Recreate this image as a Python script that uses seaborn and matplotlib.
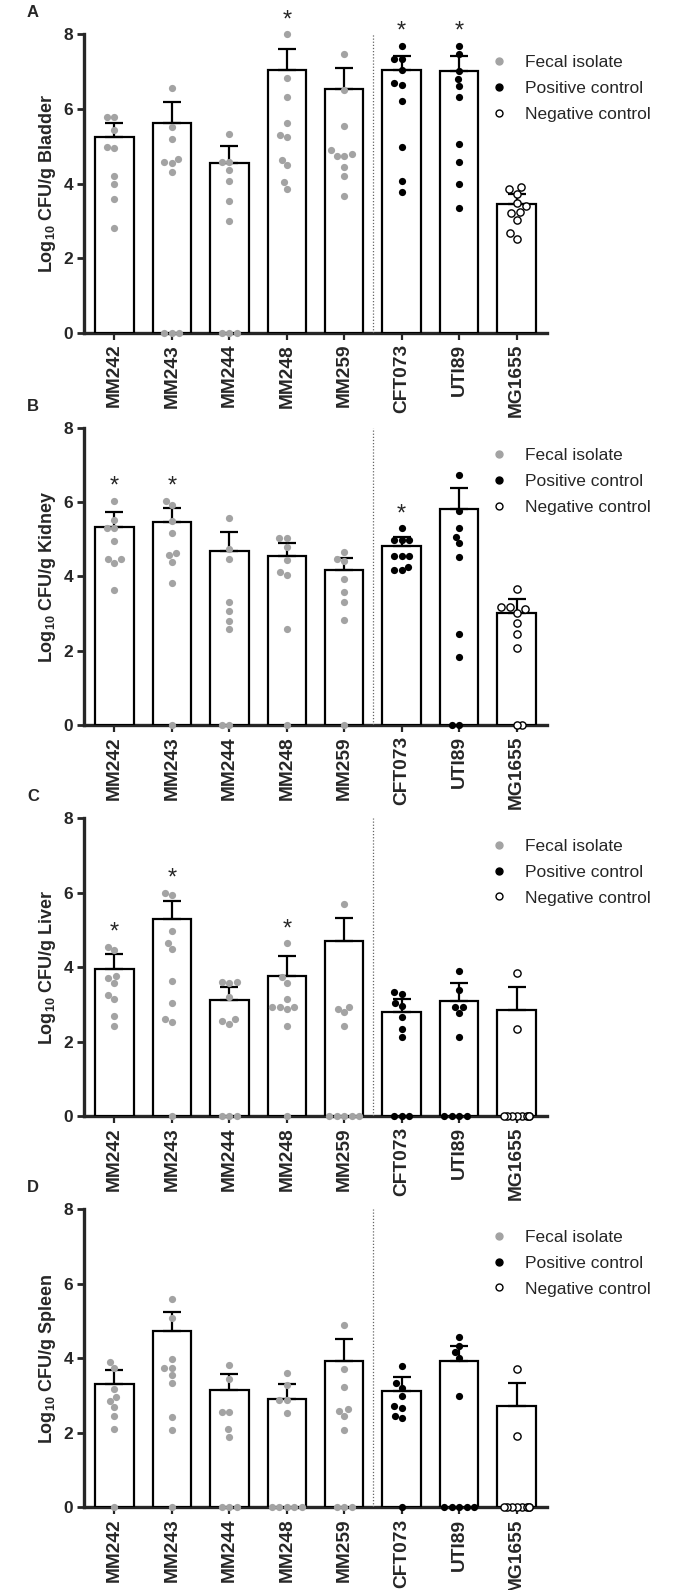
import warnings
warnings.filterwarnings("ignore")
import numpy as np
import pandas as pd
import matplotlib
matplotlib.use("Agg")
import matplotlib.pyplot as plt
from matplotlib.lines import Line2D
import seaborn as sns

# ---------------- data ----------------
strains = ["MM242", "MM243", "MM244", "MM248", "MM259", "CFT073", "UTI89", "MG1655"]
strain_types = ["Fecal isolate"] * 5 + ["Positive control"] * 2 + ["Negative control"]
organs = ["Bladder", "Kidney", "Liver", "Spleen"]
panel_letters = ["A", "B", "C", "D"]

bladder_mean = [5.26, 5.62, 4.54, 7.04, 6.53, 7.04, 7.01, 3.46]
bladder_sem = [0.36, 0.57, 0.47, 0.57, 0.57, 0.39, 0.41, 0.27]
bladder_points = {
    "MM242": [5.77, 5.77, 5.43, 4.99, 4.94, 4.20, 3.98, 3.58, 2.82],
    "MM243": [6.55, 5.52, 5.19, 4.67, 4.57, 4.54, 4.32, 0, 0, 0],
    "MM244": [5.34, 4.57, 4.57, 4.36, 4.08, 3.53, 2.99, 0, 0, 0],
    "MM248": [8.00, 6.82, 6.32, 5.61, 5.31, 5.24, 4.64, 4.50, 4.03, 3.85],
    "MM259": [7.46, 6.50, 5.55, 4.89, 4.79, 4.75, 4.75, 4.45, 4.20, 3.66],
    "CFT073": [7.69, 7.33, 7.33, 7.03, 6.70, 6.64, 6.22, 4.99, 4.07, 3.76],
    "UTI89": [7.69, 7.47, 7.01, 6.80, 6.61, 6.33, 5.05, 4.57, 3.98, 3.35],
    "MG1655": [3.91, 3.84, 3.71, 3.47, 3.40, 3.24, 3.20, 3.02, 2.66, 2.51],
}
bladder_stars = ["MM248", "CFT073", "UTI89"]

kidney_mean = [5.34, 5.46, 4.69, 4.56, 4.17, 4.83, 5.82, 3.02]
kidney_sem = [0.40, 0.37, 0.51, 0.33, 0.32, 0.24, 0.56, 0.37]
kidney_points = {
    "MM242": [6.04, 5.52, 5.29, 5.29, 4.96, 4.46, 4.46, 4.35, 3.63],
    "MM243": [6.04, 5.92, 5.50, 5.17, 4.62, 4.57, 4.39, 3.83, 0],
    "MM244": [5.56, 4.73, 4.48, 3.31, 3.08, 2.80, 2.59, 0, 0],
    "MM248": [5.04, 5.04, 4.80, 4.44, 4.11, 4.04, 2.59, 0],
    "MM259": [4.66, 4.46, 4.41, 3.92, 3.59, 3.31, 2.83, 0],
    "CFT073": [5.29, 4.98, 4.98, 4.98, 4.56, 4.56, 4.56, 4.26, 4.17, 4.17],
    "UTI89": [6.74, 5.77, 5.29, 5.07, 4.89, 4.53, 2.44, 1.84, 0, 0],
    "MG1655": [3.66, 3.17, 3.17, 3.12, 3.02, 2.74, 2.44, 2.08, 0, 0],
}
kidney_stars = ["MM242", "MM243", "CFT073"]

liver_mean = [3.95, 5.30, 3.12, 3.76, 4.70, 2.80, 3.10, 2.85]
liver_sem = [0.40, 0.48, 0.35, 0.54, 0.62, 0.34, 0.48, 0.62]
liver_points = {
    "MM242": [4.55, 4.46, 3.77, 3.70, 3.58, 3.26, 3.14, 2.69, 2.43],
    "MM243": [6.00, 5.94, 4.96, 4.64, 4.48, 3.63, 3.05, 2.60, 2.52, 0],
    "MM244": [3.60, 3.60, 3.57, 3.19, 2.60, 2.54, 2.46, 0, 0, 0],
    "MM248": [4.64, 3.73, 3.58, 3.14, 2.94, 2.94, 2.94, 2.88, 2.43, 0],
    "MM259": [5.69, 2.94, 2.88, 2.79, 2.43, 0, 0, 0, 0, 0],
    "CFT073": [3.32, 3.28, 3.03, 2.95, 2.67, 2.35, 2.13, 0, 0, 0],
    "UTI89": [3.90, 3.39, 2.92, 2.92, 2.76, 2.13, 0, 0, 0, 0],
    "MG1655": [3.83, 2.33, 0, 0, 0, 0, 0, 0, 0, 0],
}
liver_stars = ["MM242", "MM243", "MM248"]

spleen_mean = [3.30, 4.72, 3.16, 2.90, 3.93, 3.12, 3.93, 2.71]
spleen_sem = [0.38, 0.53, 0.42, 0.42, 0.59, 0.39, 0.40, 0.63]
spleen_points = {
    "MM242": [3.90, 3.75, 3.17, 2.95, 2.85, 2.70, 2.46, 2.11, 0],
    "MM243": [5.59, 5.09, 3.97, 3.75, 3.75, 3.55, 3.35, 2.43, 2.08, 0],
    "MM244": [3.82, 3.45, 2.57, 2.57, 2.09, 1.90, 0, 0, 0],
    "MM248": [3.60, 3.28, 2.88, 2.88, 2.52, 0, 0, 0, 0, 0],
    "MM259": [4.89, 3.70, 3.24, 2.63, 2.59, 2.46, 2.08, 0, 0, 0],
    "CFT073": [3.80, 3.35, 3.21, 3.00, 2.72, 2.66, 2.46, 2.39, 0],
    "UTI89": [4.58, 4.34, 4.18, 4.02, 3.00, 0, 0, 0, 0, 0],
    "MG1655": [3.70, 1.92, 0, 0, 0, 0, 0, 0, 0, 0],
}
spleen_stars = []

y_ticks = [0, 2, 4, 6, 8]

# ---------------- style ----------------
sns.set_style("ticks")
plt.rcParams["font.family"] = ["Liberation Sans", "DejaVu Sans"]
plt.rcParams["mathtext.fontset"] = "custom"
plt.rcParams["mathtext.rm"] = "Liberation Sans"
plt.rcParams["mathtext.bf"] = "Liberation Sans:bold"
plt.rcParams["mathtext.default"] = "regular"

GRAY = "#a3a3a3"
type_style = {
    "Fecal isolate": dict(color=GRAY, edgecolor=GRAY, linewidth=0),
    "Positive control": dict(color="black", edgecolor="black", linewidth=0),
    "Negative control": dict(color="white", edgecolor="black", linewidth=1.0),
}
# horizontal compression of the zero-value swarm for each group type
swarm_squeeze = {"Fecal isolate": 1.0, "Positive control": 1.0, "Negative control": 0.55}

panels = [
    (bladder_mean, bladder_sem, bladder_points, bladder_stars),
    (kidney_mean, kidney_sem, kidney_points, kidney_stars),
    (liver_mean, liver_sem, liver_points, liver_stars),
    (spleen_mean, spleen_sem, spleen_points, spleen_stars),
]

W, H = 683, 1590
fig = plt.figure(figsize=(W / 100, H / 100), dpi=100)

ax_left = 84 / W
ax_width = (547 - 84) / W
tops = [34.3, 427.7, 818.3, 1209.3]
bottoms = [332.7, 725.0, 1116.0, 1507.3]

swarm_colls = []  # (collection, squeeze factor)

for k, (means, sems, pts, stars) in enumerate(panels):
    b = 1 - bottoms[k] / H
    h = (bottoms[k] - tops[k]) / H
    ax = fig.add_axes([ax_left, b, ax_width, h])

    bar_df = pd.DataFrame({"strain": strains, "mean": means})
    sns.barplot(data=bar_df, x="strain", y="mean", order=strains, color="white",
                saturation=1, edgecolor="black", linewidth=1.6, width=0.67,
                errorbar=None, ax=ax, zorder=2)
    ax.errorbar(np.arange(len(strains)), means, yerr=[np.zeros(len(means)), sems],
                fmt="none", ecolor="black", elinewidth=1.6, capsize=6.5,
                capthick=1.6, zorder=3)

    rows = []
    for s, t in zip(strains, strain_types):
        for v in pts[s]:
            rows.append((s, t, v))
    df = pd.DataFrame(rows, columns=["strain", "type", "value"])
    for t, st in type_style.items():
        sub = df[df["type"] == t]
        n_before = len(ax.collections)
        sns.swarmplot(data=sub, x="strain", y="value", order=strains, size=5.2,
                      ax=ax, zorder=5, **st)
        for coll in ax.collections[n_before:]:
            swarm_colls.append((coll, swarm_squeeze[t]))
    for coll in ax.collections:
        coll.set_clip_on(False)

    n_fecal = strain_types.count("Fecal isolate")
    ax.plot([n_fecal - 0.5, n_fecal - 0.5], [0, 8], ls=(0, (1, 1.5)),
            color="#666666", lw=0.9, zorder=1)

    for s in stars:
        i = strains.index(s)
        ax.text(i, max(pts[s]) + 0.38, "*", ha="center", va="center",
                fontsize=17, clip_on=False)

    ax.set_xlim(-0.53, 7.53)
    ax.set_ylim(0, 8)
    ax.set_yticks(y_ticks)
    ax.set_yticklabels([str(v) for v in y_ticks], fontweight="bold", fontsize=12.5)
    ax.set_xticks(range(len(strains)))
    ax.set_xticklabels(strains, rotation=90, fontweight="bold", fontsize=13.8)
    ax.set_xlabel("")
    ax.set_ylabel(f"Log$_{{10}}$ CFU/g {organs[k]}", fontweight="bold",
                  fontsize=13, labelpad=4)
    for side in ["top", "right"]:
        ax.spines[side].set_visible(False)
    ax.spines["left"].set_linewidth(2.4)
    ax.spines["bottom"].set_linewidth(2.4)
    ax.spines["left"].set_zorder(0.5)
    ax.spines["bottom"].set_zorder(0.5)
    ax.tick_params(axis="y", width=2, length=5, pad=3)
    ax.tick_params(axis="x", width=1.6, length=5, pad=3)

    handles = [
        Line2D([], [], ls="", marker="o", markersize=5, markerfacecolor=GRAY,
               markeredgecolor=GRAY),
        Line2D([], [], ls="", marker="o", markersize=5, markerfacecolor="black",
               markeredgecolor="black"),
        Line2D([], [], ls="", marker="o", markersize=5, markerfacecolor="white",
               markeredgecolor="black", markeredgewidth=1.0),
    ]
    ax.legend(handles, ["Fecal isolate", "Positive control", "Negative control"],
              loc="upper left", bbox_to_anchor=(0.877, 0.932), frameon=False,
              fontsize=12.5, handlelength=1.0, handletextpad=1.0,
              labelspacing=0.62, borderpad=0, borderaxespad=0)

    fig.text(27 / W, 1 - (tops[k] - 17) / H, panel_letters[k], fontsize=12,
             fontweight="bold", va="baseline", ha="left")

# let seaborn lay out the swarms, then pack the crowded zero values tighter
fig.canvas.draw()
for coll, f in swarm_colls:
    offs = np.asarray(coll.get_offsets(), dtype=float)
    if "draw" in coll.__dict__:
        del coll.draw
    if len(offs) and f != 1.0:
        c = np.round(offs[:, 0])
        at_zero = offs[:, 1] == 0
        offs[at_zero, 0] = c[at_zero] + (offs[at_zero, 0] - c[at_zero]) * f
        coll.set_offsets(offs)

fig.savefig("out.png", dpi=100)
